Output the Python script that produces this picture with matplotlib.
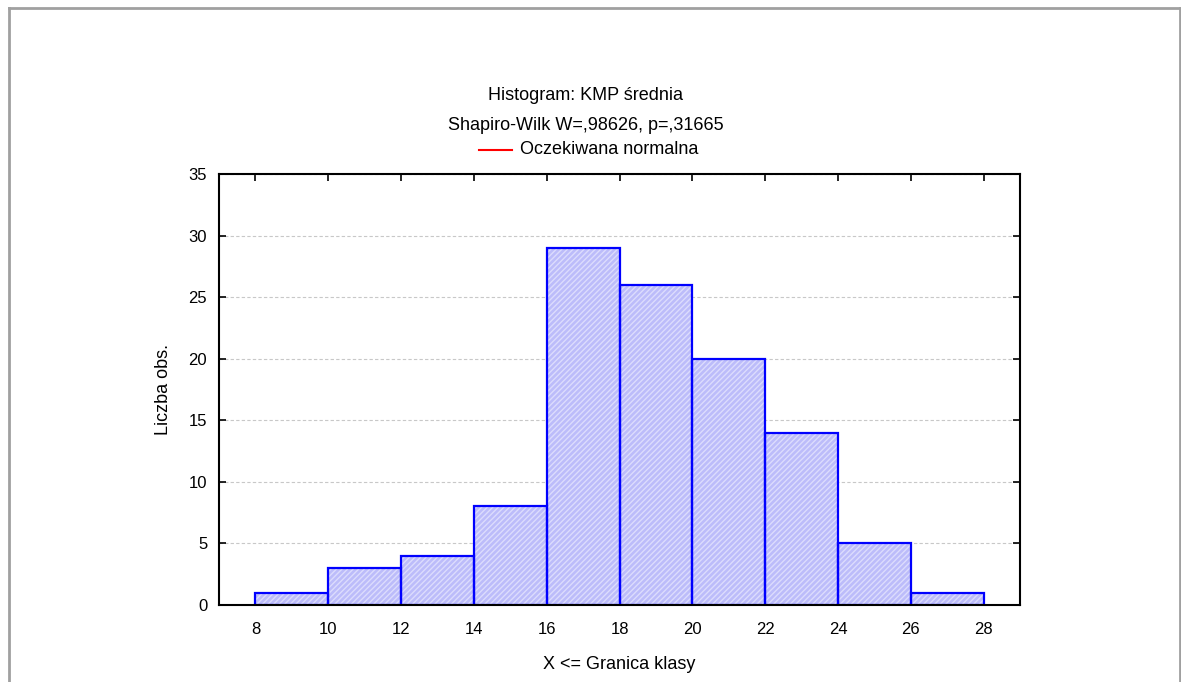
import matplotlib.pyplot as plt
from matplotlib.lines import Line2D

# class edges and counts
bin_left = [8, 10, 12, 14, 16, 18, 20, 22, 24, 26]
counts = [1, 3, 4, 8, 29, 26, 20, 14, 5, 1]
bin_width = 2
x_ticks = [8, 10, 12, 14, 16, 18, 20, 22, 24, 26, 28]
y_ticks = [0, 5, 10, 15, 20, 25, 30, 35]

plt.rcParams['font.family'] = ['Liberation Sans', 'DejaVu Sans']
plt.rcParams['hatch.linewidth'] = 1.0

fig = plt.figure(figsize=(11.81, 6.82), dpi=100)
ax = fig.add_axes([219 / 1181, 1 - 605 / 682, (1020 - 219) / 1181, (605 - 174) / 682])

# grey frame round the figure (no bottom edge, as in the original)
for coords in [([9 / 1181, 9 / 1181], [0, 1 - 8 / 682]),
               ([9 / 1181, 1180 / 1181], [1 - 8 / 682, 1 - 8 / 682]),
               ([1180 / 1181, 1180 / 1181], [1 - 8 / 682, 0])]:
    fig.add_artist(Line2D(coords[0], coords[1], color='#a0a0a0', lw=2,
                          transform=fig.transFigure))

# hatched fill, then blue outline
ax.bar(bin_left, counts, width=bin_width, align='edge', color='#bcbcfa',
       edgecolor='#dcdcfd', hatch='//////', linewidth=0, zorder=2)
ax.bar(bin_left, counts, width=bin_width, align='edge', fill=False,
       edgecolor='#0000ff', linewidth=1.6, zorder=3)

ax.set_xlim(7, 29)
ax.set_ylim(0, 35)
ax.set_xticks(x_ticks)
ax.set_yticks(y_ticks)
ax.tick_params(direction='in', length=5, width=1.2, top=True, right=True,
               labelsize=12, colors='black')
ax.tick_params(axis='x', pad=12)
ax.tick_params(axis='y', pad=8.5)
ax.grid(axis='y', color='#c8c8c8', linestyle=(0, (3, 2)), linewidth=0.8, zorder=1)
for s in ax.spines.values():
    s.set_linewidth(1.5)
    s.set_zorder(4)

ax.set_xlabel('X <= Granica klasy', fontsize=13, labelpad=14)
ax.set_ylabel('Liczba obs.', fontsize=13, labelpad=12)

xc = 585.5 / 1181
fig.text(xc, 1 - 96 / 682, 'Histogram: KMP średnia', ha='center', va='center', fontsize=13)
fig.text(xc, 1 - 125 / 682, 'Shapiro-Wilk W=,98626, p=,31665', ha='center', va='center', fontsize=13)
fig.add_artist(Line2D([479 / 1181, 512 / 1181], [1 - 150 / 682, 1 - 150 / 682],
                      color='red', lw=1.5, transform=fig.transFigure))
fig.text(520 / 1181, 1 - 150 / 682, 'Oczekiwana normalna', ha='left', va='center', fontsize=13)

fig.savefig('out.png', dpi=100)
